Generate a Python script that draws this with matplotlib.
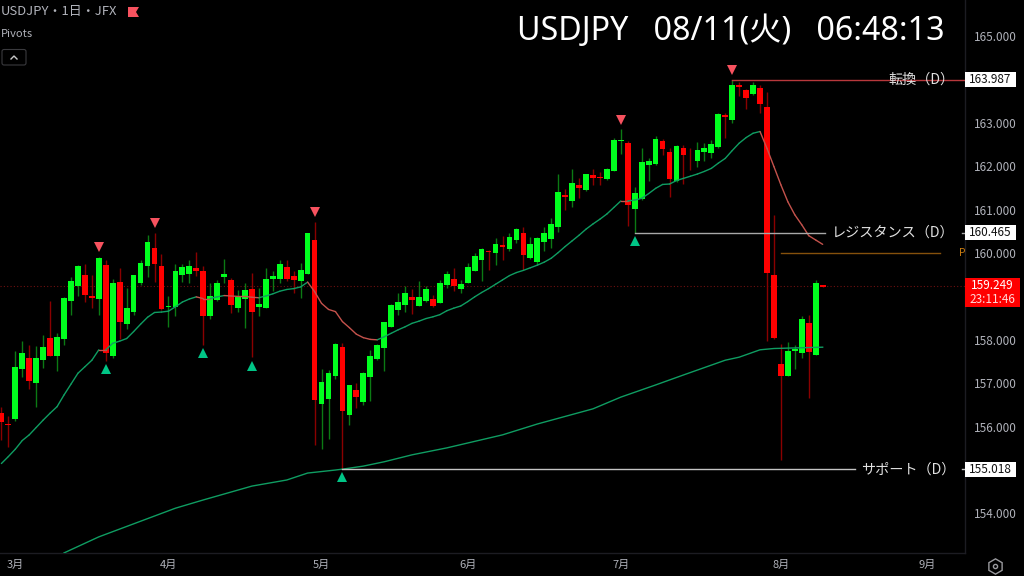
import matplotlib
matplotlib.use('Agg')
import matplotlib.pyplot as plt
import numpy as np
from matplotlib.patches import Rectangle, FancyBboxPatch, Polygon
from matplotlib.transforms import blended_transform_factory

plt.rcParams['font.family'] = ['Noto Sans CJK JP', 'DejaVu Sans']

# Daily USDJPY candles
opens = [156.31,156.05,156.17,157.33,157.57,157.01,157.53,158.04,157.63,158.03,
         158.89,159.25,159.49,159.00,158.95,159.73,157.63,159.34,158.37,158.64,
         159.31,159.70,160.12,159.70,158.76,158.76,159.49,159.52,159.66,159.59,
         158.56,158.92,159.45,159.38,158.74,158.95,159.16,158.76,158.74,159.40,
         159.40,159.67,159.48,159.36,159.52,160.31,156.52,156.64,157.17,157.83,
         156.26,156.85,156.57,157.15,157.55,157.82,158.30,158.69,158.81,158.99,
         158.79,158.89,158.93,158.85,159.26,159.41,159.16,159.31,159.59,159.85,
         160.05,160.00,160.18,160.10,160.30,160.45,159.88,159.79,160.26,160.33,
         160.60,161.34,161.21,161.57,161.45,161.80,161.75,161.70,161.89,162.57,
         162.53,161.01,161.24,162.03,162.04,162.57,162.33,161.65,162.42,162.20,
         162.13,162.33,162.31,162.45,163.18,163.06,163.86,163.75,163.66,163.80,
         163.36,159.49,157.44,157.17,157.74,157.70,158.39,157.66,159.26]
closes = [156.11,156.04,157.37,157.70,157.04,157.57,157.83,157.63,158.07,158.96,
          159.35,159.71,159.03,158.97,159.89,157.70,159.30,158.42,158.73,159.49,
          159.78,160.25,159.74,158.71,158.79,159.59,159.68,159.69,159.59,158.56,
          159.00,159.31,159.52,158.80,158.99,159.14,158.63,158.83,159.39,159.48,
          159.75,159.39,159.38,159.62,160.45,156.62,157.03,157.24,157.91,156.36,
          156.95,156.68,157.23,157.63,157.89,158.40,158.80,158.86,159.09,158.92,
          158.99,159.17,158.79,159.31,159.52,159.25,159.29,159.68,159.93,160.09,
          160.02,160.21,160.15,160.37,160.56,159.96,160.21,160.35,160.47,160.68,
          161.40,161.29,161.61,161.50,161.81,161.72,161.73,161.94,162.60,162.60,
          161.11,161.38,162.10,162.11,162.63,162.39,161.70,162.47,162.26,162.18,
          162.37,162.43,162.51,163.20,163.13,163.87,163.82,163.58,163.87,163.43,
          159.55,158.04,157.17,157.74,157.79,158.47,157.73,159.31,159.21]
highs = [156.46,156.24,157.75,157.97,157.87,157.86,158.10,158.90,158.15,158.98,
         159.44,159.72,159.75,159.50,159.90,159.85,159.40,159.66,159.19,159.50,
         159.84,160.41,160.47,159.98,159.01,159.75,159.75,159.84,160.03,159.70,
         159.30,159.38,159.86,159.42,159.15,159.32,159.53,159.20,159.65,159.59,
         159.85,159.84,159.59,159.78,160.47,160.72,157.33,157.30,157.93,157.93,
         156.96,157.00,157.27,157.77,157.90,158.42,158.83,159.09,159.25,159.17,
         159.35,159.23,159.04,159.38,159.58,159.66,159.38,159.76,159.99,160.11,
         160.08,160.34,160.39,160.45,160.57,160.60,160.38,160.36,160.59,160.81,
         161.82,161.47,161.94,161.74,161.82,161.94,161.87,161.97,162.66,162.85,
         162.59,161.52,162.43,162.20,162.70,162.62,162.43,162.48,162.49,162.43,
         162.55,162.54,162.60,163.23,163.23,163.99,163.95,163.79,163.95,163.87,
         163.72,160.88,157.90,157.96,157.88,158.55,158.57,159.37,159.26]
lows = [155.69,155.54,156.14,157.15,156.87,156.46,157.36,157.62,157.29,157.87,
        158.57,159.01,158.86,158.73,158.57,157.51,157.59,158.01,158.25,158.58,
        159.26,159.45,159.33,158.69,158.29,158.55,159.34,159.32,159.47,157.88,
        158.47,158.90,159.30,158.61,158.65,158.28,157.61,158.55,158.73,159.12,
        159.30,159.36,159.09,158.97,159.51,155.58,155.49,155.71,157.09,155.02,
        156.03,156.44,156.50,156.60,157.54,157.29,158.29,158.58,158.63,158.59,
        158.78,158.88,158.76,158.84,159.19,159.12,159.08,159.30,159.58,159.35,
        159.61,159.72,159.85,160.05,160.24,159.62,159.87,159.73,160.04,160.12,
        160.48,160.99,161.07,161.27,161.44,161.57,161.57,161.68,161.88,162.28,
        160.62,160.47,161.23,161.65,162.02,162.26,161.28,161.64,161.58,161.91,
        161.99,162.12,162.18,162.43,162.65,163.00,163.62,163.32,163.65,163.22,
        157.97,158.03,155.23,157.16,157.32,157.57,156.67,157.65,159.21]

# Short moving average, one value per candle
ma_short = [155.15,155.31,155.48,155.68,155.81,155.98,156.15,156.31,156.46,156.73,
            156.98,157.23,157.38,157.53,157.77,157.77,157.92,157.97,158.03,158.19,
            158.36,158.52,158.63,158.64,158.66,158.76,158.87,158.94,158.99,158.95,
            158.95,158.99,159.02,159.01,159.00,159.00,158.98,158.97,159.01,159.06,
            159.12,159.16,159.18,159.22,159.33,159.11,158.84,158.70,158.65,158.42,
            158.28,158.13,158.05,158.01,158.00,158.07,158.15,158.23,158.30,158.38,
            158.43,158.49,158.53,158.58,158.67,158.73,158.78,158.88,158.99,159.09,
            159.18,159.28,159.38,159.48,159.55,159.60,159.66,159.72,159.79,159.88,
            160.01,160.15,160.28,160.41,160.55,160.67,160.78,160.90,161.05,161.20,
            161.20,161.22,161.26,161.37,161.49,161.58,161.59,161.67,161.72,161.77,
            161.82,161.88,161.95,162.07,162.18,162.36,162.53,162.66,162.76,162.80,
            162.41,161.99,161.57,161.18,160.88,160.65,160.40,160.30,160.20]

# Long moving average, read at a few candles only
ma_long_idx = [9,14,20,25,29,36,41,44,48,49,52,55,59,64,72,77,85,89,94,98,104,106,109,111,118]
ma_long = [153.09,153.46,153.82,154.12,154.31,154.63,154.77,154.93,155.00,155.02,155.09,155.19,
           155.35,155.51,155.81,156.06,156.41,156.68,156.96,157.19,157.53,157.60,157.77,157.80,157.83]

# Pivot markers
pivot_high_idx = [14, 22, 45, 89, 105]
pivot_high = [160.13, 160.69, 160.94, 163.06, 164.21]
pivot_low_idx = [15, 29, 36, 49, 91]
pivot_low = [157.32, 157.70, 157.40, 154.84, 160.27]

# Levels
level_names = ['転換（D）', 'レジスタンス（D）', 'サポート（D）']
level_prices = [163.987, 160.465, 155.018]
level_start = [105, 91, 49]
level_colors = ['#b8383c', '#a8a8a8', '#c4c4c4']
last_price = 159.249
pivot_p_price = 160.0
countdown = '23:11:46'

price_ticks = [165, 163, 162, 161, 160, 158, 157, 156, 154]
month_idx = [2, 24, 46, 67, 89, 112, 133]
month_labels = ['3月', '4月', '5月', '6月', '7月', '8月', '9月']

BG = '#000000'
GRID = '#1c1c22'
TXT = '#b0b2ba'
UP = '#00ff1e'
DOWN = '#ff0000'
UP_WICK = '#0b7a14'
DOWN_WICK = '#8a0000'
MA_UP = '#0f9d62'
MA_DOWN = '#c4524c'

W, H = 1024, 576
fig = plt.figure(figsize=(W / 100, H / 100), dpi=100, facecolor=BG)
ax = fig.add_axes([0, (H - 553) / H, 965 / W, 553 / H], facecolor=BG)
ax.set_xlim(-0.2, 138.45)
ax.set_ylim(153.088, 165.83)

idx = np.arange(len(opens))
opens = np.array(opens)
closes = np.array(closes)
rising = closes >= opens

# Candles
ax.vlines(idx[rising], np.array(lows)[rising], np.array(highs)[rising], color=UP_WICK, lw=1, zorder=2)
ax.vlines(idx[~rising], np.array(lows)[~rising], np.array(highs)[~rising], color=DOWN_WICK, lw=1, zorder=2)
ax.bar(idx[rising], (closes - opens)[rising], bottom=opens[rising], width=0.82, color=UP, lw=0, zorder=3)
ax.bar(idx[~rising], (opens - closes)[~rising], bottom=closes[~rising], width=0.82, color=DOWN, lw=0, zorder=3)

# Short MA changes colour with direction
for i in range(len(ma_short) - 1):
    col = MA_UP if ma_short[i + 1] > ma_short[i] else MA_DOWN
    ax.plot(idx[i:i + 2], ma_short[i:i + 2], color=col, lw=1.0, zorder=4, solid_capstyle='round')
ax.plot(ma_long_idx, ma_long, color=MA_UP, lw=1.0, zorder=4)

# Last price dotted line and the orange pivot level
ax.axhline(last_price, color='#6e1010', lw=0.8, ls=(0, (1, 2)), zorder=1)
ax.plot([112.0, 134.9], [pivot_p_price] * 2, color='#85510c', lw=1.0, zorder=1)

# Pivots
ax.plot(pivot_high_idx, pivot_high, 'v', color='#f7525f', ms=7, mew=0, zorder=5)
ax.plot(pivot_low_idx, pivot_low, '^', color='#00c586', ms=6.5, mew=0, zorder=5)

# Level lines with their names
ytrans = blended_transform_factory(ax.transAxes, ax.transData)
ax.plot([level_start[0], 138.45], [level_prices[0]] * 2, color=level_colors[0], lw=1.0, zorder=4)
ax.plot([level_start[1], 118.4], [level_prices[1]] * 2, color=level_colors[1], lw=1.0, zorder=4)
ax.plot([level_start[2], 122.6], [level_prices[2]] * 2, color=level_colors[2], lw=1.0, zorder=4)
for name, price in zip(level_names, level_prices):
    ax.text(955 / 965, price, name, transform=ytrans, ha='right', va='center', color='#e0e0e0', fontsize=10.2, zorder=6)
for price, col in zip(level_prices[1:], level_colors[1:]):
    ax.plot([962 / 965, 1.0], [price, price], transform=ytrans, color=col, lw=1.0, zorder=4)
ax.text(962 / 965, pivot_p_price, 'P', transform=ytrans, ha='center', va='center', color='#c77a10', fontsize=7.5)

# Axes
for side in ['top', 'left']:
    ax.spines[side].set_visible(False)
for side in ['right', 'bottom']:
    ax.spines[side].set_color(GRID)
    ax.spines[side].set_linewidth(1)
ax.yaxis.tick_right()
ax.set_yticks(price_ticks)
ax.set_yticklabels([f'{p:.3f}' for p in price_ticks])
ax.set_xticks(month_idx)
ax.set_xticklabels(month_labels)
ax.tick_params(axis='y', length=0, pad=6.3, labelsize=8.5, labelcolor=TXT)
ax.tick_params(axis='x', length=0, pad=5, labelsize=8, labelcolor=TXT)

# Price labels on the scale
box_h = 15 / 43.4
for price in level_prices:
    ax.add_patch(Rectangle((1.0, price - box_h / 2), 51 / 965, box_h, transform=ytrans, fc='white', ec='none', clip_on=False, zorder=7))
    ax.text(1 + 25.5 / 965, price, f'{price:.3f}', transform=ytrans, ha='center', va='center', color='#111111', fontsize=8.5, clip_on=False, zorder=8)
ax.add_patch(Rectangle((1.0, last_price - 21.5 / 43.4), 55 / 965, 29.5 / 43.4, transform=ytrans, fc='#ff0000', ec='none', clip_on=False, zorder=7))
ax.text(1 + 27.5 / 965, last_price, f'{last_price:.3f}', transform=ytrans, ha='center', va='center', color='white', fontsize=8.5, clip_on=False, zorder=8)
ax.text(1 + 27.5 / 965, last_price - 13.5 / 43.4, countdown, transform=ytrans, ha='center', va='center', color='#ffd9d9', fontsize=8.5, clip_on=False, zorder=8)

# Overlay in pixels for header, clock and small icons
ui = fig.add_axes([0, 0, 1, 1], facecolor='none')
ui.set_xlim(0, W)
ui.set_ylim(H, 0)
ui.axis('off')
ui.text(945, 32, 'USDJPY   08/11(火)   06:48:13', ha='right', va='center', color='white', fontsize=23.2,
        family=['Noto Sans', 'Noto Sans CJK JP'])
ui.text(1, 12, 'USDJPY・1日・JFX', ha='left', va='center', color=TXT, fontsize=9.4)
ui.text(1, 34, 'Pivots', ha='left', va='center', color=TXT, fontsize=8)
ui.add_patch(Polygon([(128, 7), (139, 7), (136, 12), (139, 17), (128, 17)], fc='#f7525f', ec='none'))
ui.add_patch(FancyBboxPatch((2, 49.5), 24, 15.5, boxstyle='round,pad=0,rounding_size=2', fc='none', ec='#3a3a3e', lw=0.8))
ui.plot([11, 14, 17], [59, 56, 59], color='#c8c8c8', lw=1)
ui.plot([995], [566], marker='h', ms=11, mfc='none', mec='#9a9a9e', mew=1)
ui.plot([995], [566], marker='o', ms=3, mfc='none', mec='#9a9a9e', mew=1)

fig.savefig('out.png', dpi=100, facecolor=BG)
